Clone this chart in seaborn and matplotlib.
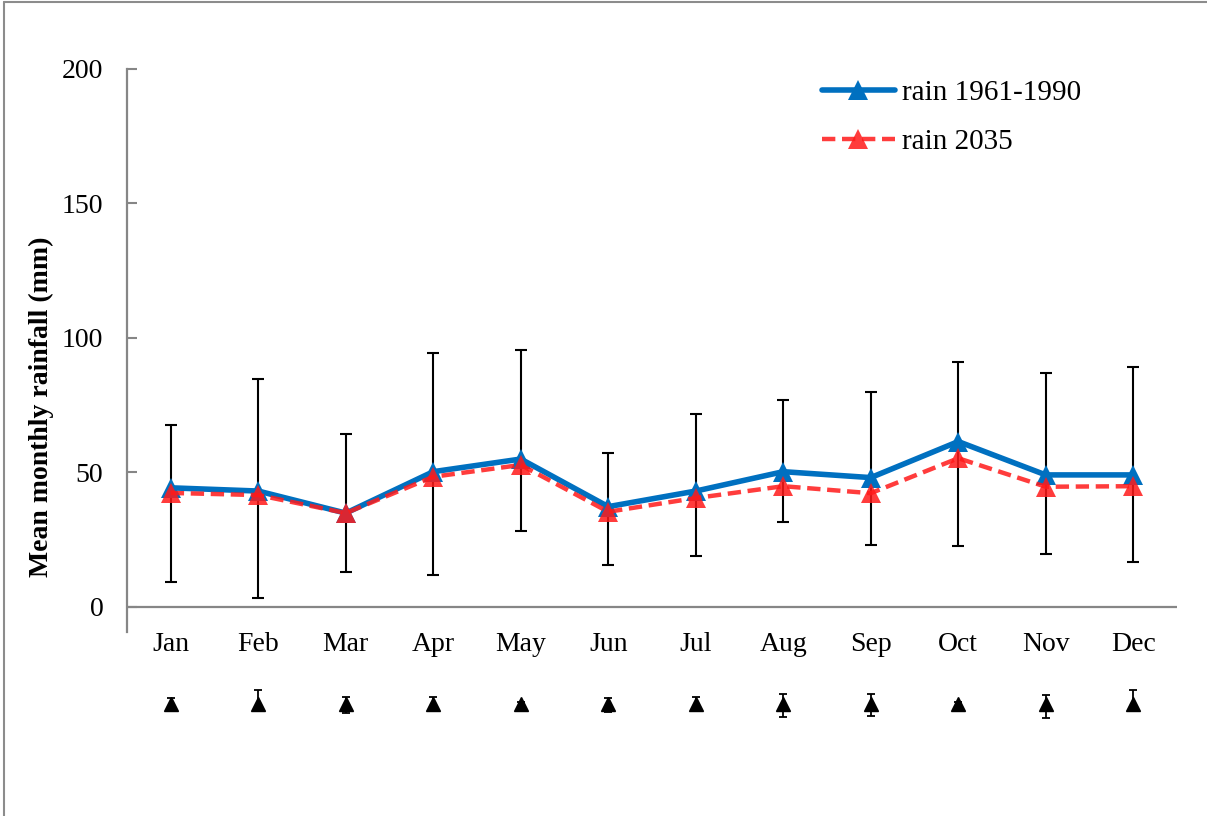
import numpy as np
import pandas as pd
import matplotlib
matplotlib.use('Agg')
import matplotlib.pyplot as plt
from matplotlib.lines import Line2D
import seaborn as sns

# Data
months = ['Jan', 'Feb', 'Mar', 'Apr', 'May', 'Jun',
          'Jul', 'Aug', 'Sep', 'Oct', 'Nov', 'Dec']
rain_1961_1990 = [44.3, 43.1, 34.9, 50.3, 55.0, 37.3,
                  43.1, 50.3, 48.1, 61.5, 49.1, 49.1]
rain_2035 = [42.4, 41.6, 34.9, 48.4, 52.8, 35.4,
             40.5, 44.9, 42.3, 55.3, 44.7, 44.9]
# error bar ends (mm) for the 1961-1990 series
err_low = [9.3, 3.5, 13.1, 11.9, 28.1, 15.7,
           19.1, 31.6, 23.2, 22.6, 19.8, 16.7]
err_high = [67.7, 84.6, 64.2, 94.5, 95.5, 57.1,
            71.6, 77.0, 80.0, 91.0, 87.0, 89.3]
# small black series drawn below the axis
low_series = [-36.2] * 12
low_top = [-34.0, -30.9, -33.3, -33.6, -35.4, -33.7,
           -33.6, -32.5, -32.3, -35.4, -32.7, -30.9]
low_bottom = [-37.5, -38.3, -39.3, -38.7, -37.0, -38.9,
              -38.7, -41.0, -40.5, -37.0, -41.4, -38.3]

df = pd.DataFrame({'x': np.arange(len(months)), 'month': months,
                   'base': rain_1961_1990, 'future': rain_2035})

sns.set_style('white')
plt.rcParams['font.family'] = ['Liberation Serif', 'DejaVu Serif']
plt.rcParams['text.color'] = 'black'

fig = plt.figure(figsize=(12.07, 8.16), dpi=100)
ax = fig.add_axes([127 / 1207, 184 / 816, 1050 / 1207, 563 / 816])

# error bars behind the lines
base = np.array(rain_1961_1990)
ax.errorbar(df['x'], base,
            yerr=[base - np.array(err_low), np.array(err_high) - base],
            fmt='none', ecolor='black', elinewidth=1.5, capsize=4.5,
            capthick=1.5, zorder=2)

sns.lineplot(data=df, x='x', y='base', ax=ax, color='#0070C0', lw=4.0,
             marker='^', markersize=15, markeredgewidth=0, zorder=3,
             legend=False)
sns.lineplot(data=df, x='x', y='future', ax=ax, color='#FF1A1A', lw=3.2,
             alpha=0.85, marker='^', markersize=14, markeredgewidth=0,
             zorder=4, legend=False)
ax.lines[-1].set_dashes((3.0, 1.5))

# black series below the x axis
low = np.array(low_series)
ax.errorbar(df['x'], low,
            yerr=[low - np.array(low_bottom), np.array(low_top) - low],
            fmt='^', color='black', markersize=9.5, elinewidth=1.3,
            capsize=3, capthick=1.3, clip_on=False, zorder=5)

ax.set_xlim(-0.5, 11.5)
ax.set_ylim(-9.3, 200)
ax.set_yticks([0, 50, 100, 150, 200])
ax.set_xticks(df['x'])
ax.set_xticklabels(months)
ax.tick_params(axis='y', direction='in', length=7, width=1.5,
               color='#868686', labelsize=20, pad=17, left=True,
               labelcolor='black')
ax.tick_params(axis='x', length=0, labelsize=20, pad=0, labelcolor='black')
ax.axhline(0, color='#868686', lw=1.6, zorder=1)

for s in ['top', 'right', 'bottom']:
    ax.spines[s].set_visible(False)
ax.spines['left'].set_color('#868686')
ax.spines['left'].set_linewidth(1.6)

ax.set_xlabel('')
ax.set_ylabel('Mean monthly rainfall (mm)', fontsize=20, fontweight='bold',
              color='black')
ax.yaxis.set_label_coords(-73 / 1050, (632 - 407) / 563)

handles = [Line2D([], [], color='#0070C0', lw=4.0, marker='^', markersize=15,
                  markeredgewidth=0),
           Line2D([], [], color='#FF1A1A', lw=3.2, alpha=0.85, marker='^',
                  markersize=14, markeredgewidth=0, dashes=(3.0, 1.5))]
ax.legend(handles, ['rain 1961-1990', 'rain 2035'], frameon=False,
          fontsize=21, handlelength=2.5, handletextpad=0.25,
          labelspacing=0.75, loc='upper left', borderpad=0,
          borderaxespad=0, bbox_to_anchor=(822 / 1207, 1 - 80 / 816),
          bbox_transform=fig.transFigure)

# outer chart border (top and left only visible)
fig.add_artist(Line2D([4 / 1207, 4 / 1207], [0, 1 - 2 / 816],
                      transform=fig.transFigure, color='#8c8c8c', lw=1.5))
fig.add_artist(Line2D([4 / 1207, 1], [1 - 2 / 816, 1 - 2 / 816],
                      transform=fig.transFigure, color='#8c8c8c', lw=1.5))

fig.savefig('out.png', dpi=100)
